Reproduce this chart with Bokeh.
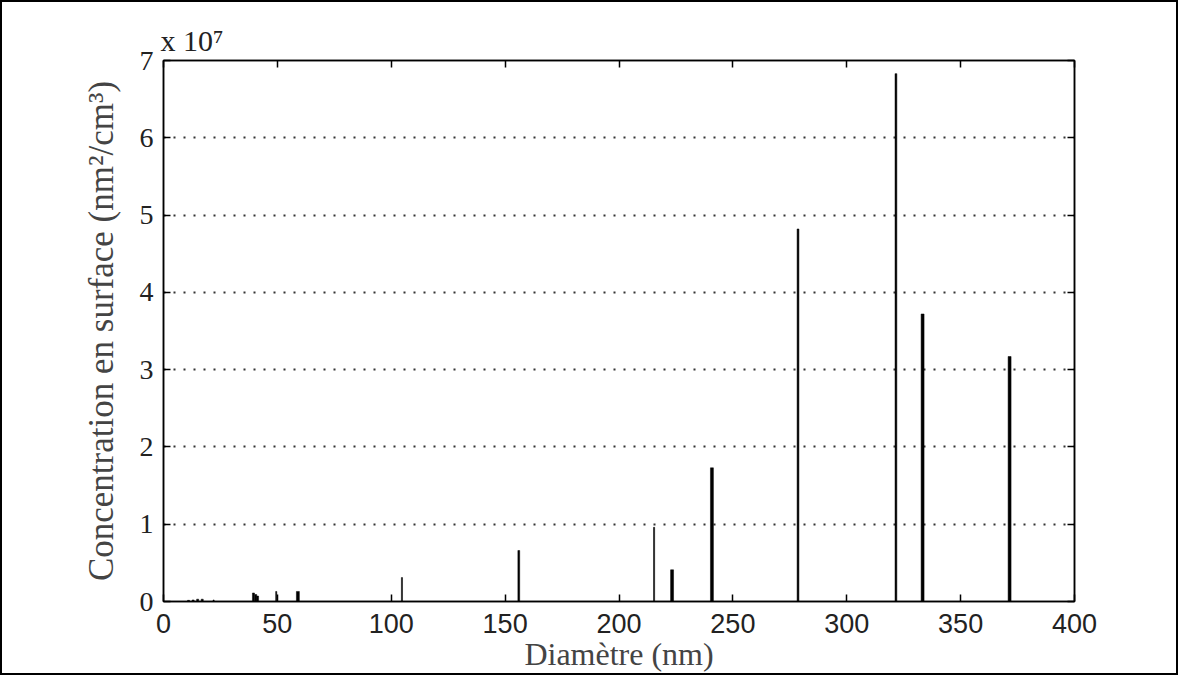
from bokeh.plotting import figure
from bokeh.models import LinearAxis, ColumnDataSource, FixedTicker, Range1d, CustomJSTickFormatter
from bokeh.embed import file_html
from bokeh.resources import INLINE

# ---- data ----
diameter_nm = [11, 13, 15, 17, 22, 39.5, 40.5, 41.3, 49.5, 59, 104.7, 156,
               215.4, 223.3, 240.8, 278.6, 321.6, 333.3, 371.5]
conc_x1e7 = [0.015, 0.02, 0.03, 0.03, 0.02, 0.11, 0.09, 0.07, 0.13, 0.13, 0.31, 0.66,
             0.96, 0.41, 1.73, 4.82, 6.83, 3.72, 3.17]
bin_width_nm = [0.9, 0.9, 0.9, 0.9, 0.5, 0.9, 0.9, 0.9, 0.5, 1.3, 0.5, 0.8,
                0.5, 1.3, 1.3, 0.8, 0.8, 1.3, 1.3]
x_ticks = [0, 50, 100, 150, 200, 250, 300, 350, 400]
y_ticks = [0, 1, 2, 3, 4, 5, 6, 7]

src = ColumnDataSource(dict(x=diameter_nm, top=conc_x1e7, w=bin_width_nm))

serif = "Liberation Serif"
sans = "Liberation Sans"

p = figure(width=1178, height=675, output_backend="svg", toolbar_location=None,
           x_range=Range1d(0, 400), y_range=Range1d(0, 7),
           min_border_left=161, min_border_right=106, min_border_top=58, min_border_bottom=76,
           title="x 10⁷")
p.styles = {"border": "2px solid black", "box-sizing": "border-box"}

p.title.text_font = serif
p.title.text_font_size = "30px"
p.title.text_font_style = "normal"
p.title.text_color = "#222222"
p.title.align = "left"
p.title.offset = -3
p.title.standoff = 8

p.vbar(x="x", top="top", width="w", bottom=0, source=src,
       fill_color="black", line_color="black", line_width=0.5)

p.outline_line_color = "black"
p.outline_line_width = 1.5
p.outline_line_alpha = 1
p.xgrid.visible = False
p.ygrid.ticker = FixedTicker(ticks=y_ticks)
p.ygrid.grid_line_color = "#333333"
p.ygrid.grid_line_dash = "2 8"
p.ygrid.grid_line_width = 1.8

for ax in p.xaxis:
    ax.ticker = FixedTicker(ticks=x_ticks)
    ax.major_label_text_font = sans
    ax.major_label_text_font_size = "27px"
    ax.major_label_text_color = "#222222"
    ax.major_label_standoff = 12
    ax.axis_label = "Diamètre (nm)"
    ax.axis_label_text_font = serif
    ax.axis_label_text_font_style = "normal"
    ax.axis_label_text_font_size = "32px"
    ax.axis_label_standoff = 0

for ax in p.yaxis:
    ax.ticker = FixedTicker(ticks=y_ticks)
    ax.major_label_text_font = serif
    ax.major_label_text_font_size = "28px"
    ax.major_label_text_color = "#222222"
    ax.major_label_standoff = 10
    ax.axis_label = "Concentration en surface (nm²/cm³)"
    ax.axis_label_text_font = serif
    ax.axis_label_text_font_style = "normal"
    ax.axis_label_text_font_size = "35px"
    ax.axis_label_standoff = 16

for ax in list(p.xaxis) + list(p.yaxis):
    ax.major_tick_in = 7
    ax.major_tick_out = 0
    ax.minor_tick_line_color = None
    ax.axis_line_width = 1.5
    ax.major_tick_line_width = 1.5

blank = CustomJSTickFormatter(code="return ''")
top_ax = LinearAxis(ticker=FixedTicker(ticks=x_ticks), formatter=blank,
                    major_tick_in=7, major_tick_out=0, minor_tick_line_color=None,
                    axis_line_width=1.5, major_tick_line_width=1.5, major_label_standoff=0)
right_ax = LinearAxis(ticker=FixedTicker(ticks=y_ticks), formatter=blank,
                      major_tick_in=7, major_tick_out=0, minor_tick_line_color=None,
                      axis_line_width=1.5, major_tick_line_width=1.5, major_label_standoff=0)
p.add_layout(top_ax, "above")
p.add_layout(right_ax, "right")

open("out.html", "w").write(file_html(p, INLINE))
